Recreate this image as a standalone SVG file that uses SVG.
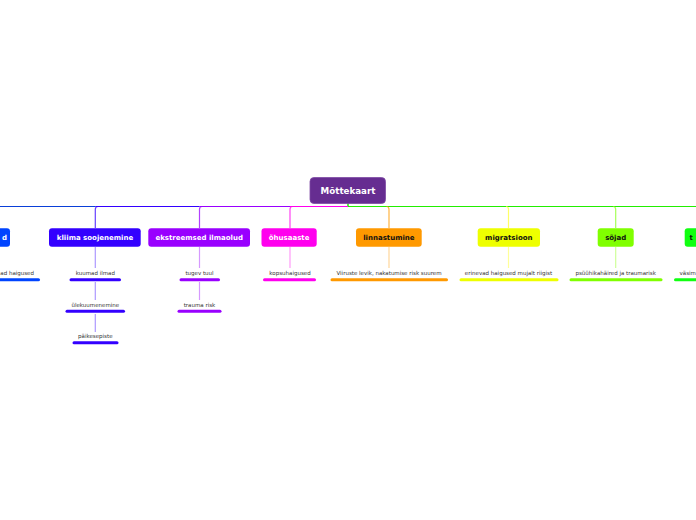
<svg xmlns="http://www.w3.org/2000/svg" width="696" height="520" viewBox="0 0 696 520">
<style>
.nt{font-family:"DejaVu Sans",Verdana,sans-serif;font-weight:bold;font-size:7px;text-anchor:middle}
.ct{font-family:"DejaVu Sans",Verdana,sans-serif;font-size:5.5px;fill:#333;text-anchor:middle}
.w{fill:#fff}
.k{fill:#111}
.ul{stroke-width:3;stroke-linecap:round;fill:none}
.up{fill:none;stroke-width:1.2;opacity:0.75}
.lo{fill:none;stroke-width:1.2;opacity:0.4}
.hl{fill:none;stroke-width:1}
</style>
<rect width="696" height="520" fill="#fff"/>
<g id="connectors" fill="none">
  <path class="hl" d="M348 206.5 H696" stroke="#22ee00"/>
  <path d="M348 203 V206.5" stroke="#22ee00" stroke-width="1.5"/>
  <path class="hl" d="M348 206.5 H290" stroke="#ff00ee"/>
  <path class="hl" d="M290 206.5 H199.5" stroke="#9900ff"/>
  <path class="hl" d="M199.5 206.5 H95.3" stroke="#3300ff"/>
  <path class="hl" d="M95.3 206.5 H0" stroke="#0a3fd8"/>
  <!-- upper verticals -->
  <path class="up" stroke="#3300ff" d="M98 206.5 Q95.3 206.5 95.3 209.5 V228"/>
  <path class="up" stroke="#9900ff" d="M202 206.5 Q199.5 206.5 199.5 209.5 V228"/>
  <path class="up" stroke="#ff00ee" d="M292.5 206.5 Q290 206.5 290 209.5 V228"/>
  <path class="up" stroke="#ff9900" d="M386.5 206.5 Q389 206.5 389 209.5 V228"/>
  <path class="up" stroke="#ffff33" d="M506 206.5 Q508.5 206.5 508.5 209.5 V228"/>
  <path class="up" stroke="#88ff22" d="M613 206.5 Q615.7 206.5 615.7 209.5 V228"/>
  <!-- lower verticals -->
  <path class="lo" stroke="#3300ff" d="M95.3 247 V268 M95.3 282 V300 M95.3 314 V332"/>
  <path class="lo" stroke="#9900ff" d="M199.5 247 V268 M199.5 282 V300"/>
  <path class="lo" stroke="#ff00ee" d="M290 247 V268"/>
  <path class="lo" stroke="#ff9900" d="M389 247 V268"/>
  <path class="lo" stroke="#ffff00" d="M508.5 247 V268"/>
  <path class="lo" stroke="#88ff00" d="M615.7 247 V268"/>
</g>
<g id="center">
  <rect x="310" y="177.5" width="75.5" height="26" rx="4" fill="#662d91" stroke="#7d4aa3" stroke-width="0.8"/>
  <text x="348" y="193.5" class="nt w" style="font-size:8.7px">Mõttekaart</text>
</g>
<g id="n-left">
  <rect x="-60" y="228.3" width="70" height="18.4" rx="3" fill="#0044ff"/>
  <text x="7" y="240" class="nt w" style="text-anchor:end">d</text>
  <path class="ul" stroke="#0044ff" d="M-10 279.7 H38.5"/>
  <text x="34" y="275" class="ct" style="text-anchor:end">ad haigused</text>
</g>
<g id="n-kliima">
  <rect x="49" y="228.3" width="91.7" height="18.4" rx="3" fill="#3300ff"/>
  <text x="95" y="240" class="nt w">kliima soojenemine</text>
  <path class="ul" stroke="#3300ff" d="M71 279.7 H119.5"/>
  <text x="95.3" y="275" class="ct">kuumad ilmad</text>
  <path class="ul" stroke="#3300ff" d="M67 311.3 H123.5"/>
  <text x="95.3" y="306.5" class="ct">ülekuumenemine</text>
  <path class="ul" stroke="#3300ff" d="M74 342.7 H117"/>
  <text x="95.3" y="338" class="ct">päikesepiste</text>
</g>
<g id="n-ekstreemsed">
  <rect x="148.3" y="228.3" width="101.7" height="18.4" rx="3" fill="#9900ff"/>
  <text x="199.2" y="240" class="nt w">ekstreemsed ilmaolud</text>
  <path class="ul" stroke="#9900ff" d="M181 279.7 H218.5"/>
  <text x="199.5" y="275" class="ct">tugev tuul</text>
  <path class="ul" stroke="#9900ff" d="M179 311.3 H220"/>
  <text x="199.5" y="306.5" class="ct">trauma risk</text>
</g>
<g id="n-ohusaaste">
  <rect x="261.5" y="228.3" width="55.2" height="18.4" rx="3" fill="#ff00ee"/>
  <text x="289.1" y="240" class="nt w">õhusaaste</text>
  <path class="ul" stroke="#ff00ee" d="M264.5 279.7 H314.5"/>
  <text x="290" y="275" class="ct">kopsuhaigused</text>
</g>
<g id="n-linnastumine">
  <rect x="356" y="228.3" width="65.7" height="18.4" rx="3" fill="#ff9900"/>
  <text x="388.9" y="240" class="nt k">linnastumine</text>
  <path class="ul" stroke="#ff9900" d="M332 279.7 H446.5"/>
  <text x="389" y="275" class="ct">Viiruste levik, nakatumise risk suurem</text>
</g>
<g id="n-migratsioon">
  <rect x="477.7" y="228.3" width="62.3" height="18.4" rx="3" fill="#eeff00"/>
  <text x="508.8" y="240" class="nt k">migratsioon</text>
  <path class="ul" stroke="#eeff00" d="M461 279.7 H557"/>
  <text x="508.5" y="275" class="ct">erinevad haigused mujalt riigist</text>
</g>
<g id="n-sojad">
  <rect x="597.7" y="228.3" width="36" height="18.4" rx="3" fill="#80ff00"/>
  <text x="615.7" y="240" class="nt k">sõjad</text>
  <path class="ul" stroke="#80ff00" d="M571 279.7 H661"/>
  <text x="615.7" y="275" class="ct">psüühikahäired ja traumarisk</text>
</g>
<g id="n-right">
  <rect x="684.7" y="228.3" width="60" height="18.4" rx="3" fill="#11ff11"/>
  <text x="689.5" y="240" class="nt k" style="text-anchor:start">t</text>
  <path class="ul" stroke="#11ff11" d="M675.5 279.7 H720"/>
  <text x="679.5" y="275" class="ct" style="text-anchor:start">väsim</text>
</g>
</svg>
